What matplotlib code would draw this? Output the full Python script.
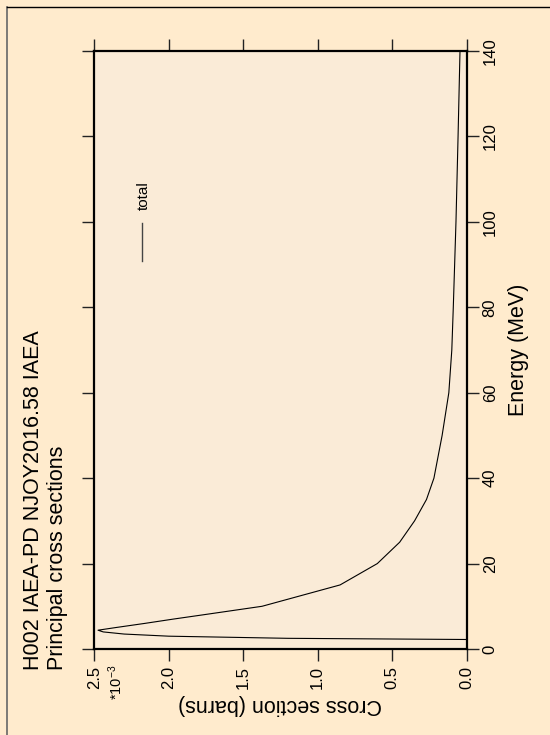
import matplotlib
matplotlib.use("Agg")
import matplotlib.pyplot as plt
from matplotlib.lines import Line2D

plt.rcParams['font.family'] = ['Liberation Sans', 'DejaVu Sans']
plt.rcParams['mathtext.fontset'] = 'custom'
plt.rcParams['mathtext.rm'] = 'Liberation Sans'
plt.rcParams['mathtext.default'] = 'regular'

# ---- data (cross section in units of 1e-3 barns) ----
energy_mev = [2.2246, 2.5, 3.0, 3.5, 4.0, 4.4, 5.0, 6.0, 7.0, 8.0, 10.0, 15.0, 20.0,
              25.0, 30.0, 35.0, 40.0, 50.0, 60.0, 70.0, 80.0, 100.0, 120.0, 140.0]
total_xs = [0.0, 1.2, 2.0, 2.3, 2.44, 2.475, 2.36, 2.16, 1.97, 1.77, 1.374, 0.85, 0.60,
            0.45, 0.35, 0.27, 0.22, 0.165, 0.12, 0.10, 0.09, 0.072, 0.058, 0.045]
xs_ticks = [0.0, 0.5, 1.0, 1.5, 2.0, 2.5]
xs_ticklabels = ["0.0", "0.5", "1.0", "1.5", "2.0", "2.5"]
e_ticks = [0, 20, 40, 60, 80, 100, 120, 140]
e_ticklabels = ["0", "20", "40", "60", "80", "100", "120", "140"]
title_lines = ["H002 IAEA-PD NJOY2016.58 IAEA", "Principal cross sections"]
xs_label = "Cross section (barns)"
e_label = "Energy (MeV)"
series_name = "total"
scale_note = r"*10$^{-3}$"

W, H = 550, 735
fig = plt.figure(figsize=(W / 100, H / 100), dpi=100, facecolor='#FFEBCD')

def fx(px):
    return px / W

def fy(py):
    return 1 - py / H

L, R, T, B = 94.3, 466.7, 51.0, 649.0
ax = fig.add_axes([fx(L), fy(B), fx(R) - fx(L), fy(T) - fy(B)])
ax.set_facecolor('#FAEBD7')

ax.plot(total_xs, energy_mev, color='black', lw=0.8)

ax.set_xlim(2.5, 0.0)
ax.set_ylim(0, 140)

ax.set_xticks(xs_ticks)
ax.set_xticklabels(xs_ticklabels, rotation=90, fontsize=12)
ax.set_yticks(e_ticks)
ax.set_yticklabels(e_ticklabels, rotation=90, fontsize=12, va='center')

ax.tick_params(axis='x', which='both', bottom=True, top=True, labelbottom=True,
               labeltop=False, direction='out', length=8.6, width=1.0, pad=3.6,
               color='#222222')
ax.tick_params(axis='y', which='both', left=True, right=True, labelleft=False,
               labelright=True, direction='out', length=8.6, width=1.0, pad=2.9,
               color='#222222')
for s in ax.spines.values():
    s.set_linewidth(1.6)
    s.set_color('black')

ax.set_xlabel(xs_label, fontsize=15.5, rotation=180, va='center', ha='center')
ax.xaxis.set_label_coords(0.5, -0.0936)
ax.yaxis.set_label_position('right')
ax.set_ylabel(e_label, fontsize=15.5, rotation=90, va='center', ha='center')
ax.yaxis.set_label_coords(1.139, 0.5)

# scale note under the 2.5 tick label
fig.text(fx(116), fy(665), scale_note, rotation=90, fontsize=10.5,
         ha='center', va='top')

# title lines (rotated)
fig.text(fx(38.5), fy(670), title_lines[0], rotation=90, rotation_mode='anchor',
         ha='left', va='baseline', fontsize=15.5)
fig.text(fx(63.5), fy(670), title_lines[1], rotation=90, rotation_mode='anchor',
         ha='left', va='baseline', fontsize=15.5)

# legend (manual, rotated)
ax.plot([0.128, 0.128], [0.649, 0.712], transform=ax.transAxes, color='#444444', lw=1.0)
ax.text(0.145, 0.734, series_name, transform=ax.transAxes, rotation=90,
        rotation_mode='anchor', ha='left', va='baseline', fontsize=11)

# outer frame lines (left and top)
fig.add_artist(Line2D([fx(7), fx(7)], [fy(7), 0], color='#666666', lw=1.2,
                      transform=fig.transFigure))
fig.add_artist(Line2D([fx(7), 1], [fy(7), fy(7)], color='black', lw=1.0,
                      transform=fig.transFigure))

fig.savefig('out.png', dpi=100, facecolor=fig.get_facecolor())
